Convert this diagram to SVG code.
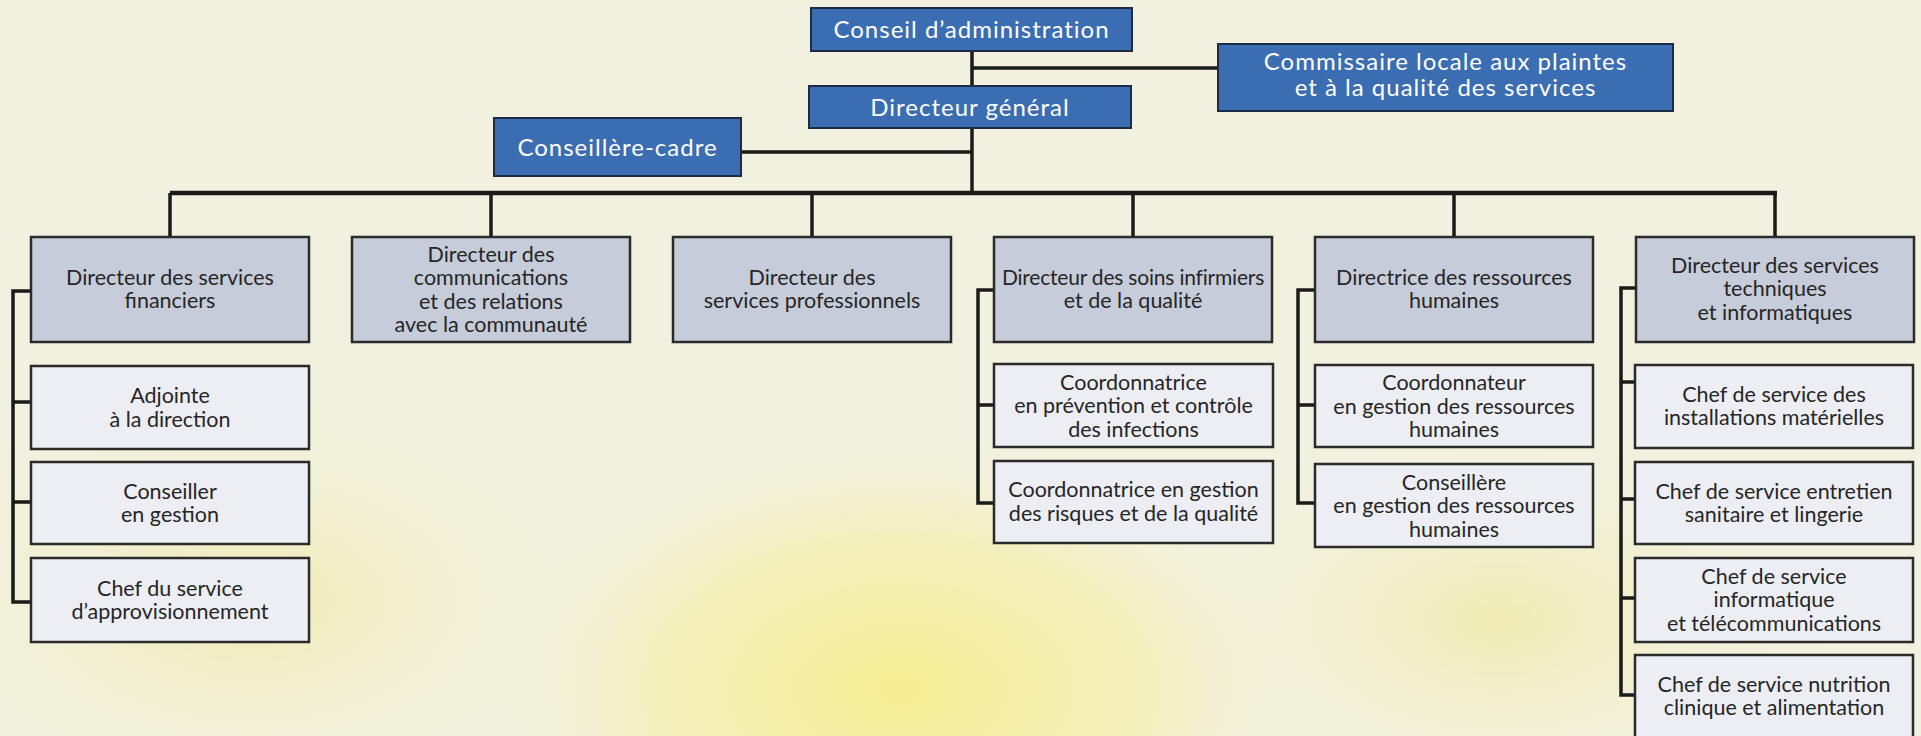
<svg xmlns="http://www.w3.org/2000/svg" width="1921" height="736" viewBox="0 0 1921 736">
<defs>
<radialGradient id="yel" cx="0.5" cy="0.5" r="0.5">
<stop offset="0" stop-color="#f7ee8a" stop-opacity="0.9"/>
<stop offset="0.6" stop-color="#f5ee9c" stop-opacity="0.5"/>
<stop offset="1" stop-color="#f2f0d8" stop-opacity="0"/>
</radialGradient>
<radialGradient id="yel2" cx="0.5" cy="0.5" r="0.5">
<stop offset="0" stop-color="#efe9a0" stop-opacity="0.7"/>
<stop offset="1" stop-color="#f2f0d8" stop-opacity="0"/>
</radialGradient>
<style>
.blue{fill:#3b6db3;stroke:#1d2b45;stroke-width:2}
.dir{fill:#c6ccd9;stroke:#2b2b2b;stroke-width:2.5}
.sub{fill:#eceef3;stroke:#2b2b2b;stroke-width:2.5}
.wt{font-family:Lato,"Open Sans",sans-serif;font-size:24px;fill:#ffffff;text-anchor:middle;letter-spacing:1px}
.t{font-family:Lato,"Open Sans",sans-serif;font-size:21.5px;fill:#262626;text-anchor:middle}
.ln{stroke:#1a1a1a;stroke-width:3.5;fill:none}
.bus{stroke:#1a1a1a;stroke-width:4.5;fill:none}
</style>
</defs>
<rect x="0" y="0" width="1921" height="736" fill="#f2f1df"/>
<ellipse cx="900" cy="690" rx="420" ry="260" fill="url(#yel)"/>
<ellipse cx="250" cy="600" rx="380" ry="220" fill="url(#yel2)"/>
<ellipse cx="1500" cy="620" rx="350" ry="200" fill="url(#yel2)"/>

<g id="connectors">
<path class="ln" d="M972 51 V86 M972 128 V193"/>
<path class="ln" d="M972 68 H1218"/>
<path class="ln" d="M741 152 H972"/>
<path class="bus" d="M170 193 H1777"/>
<path class="ln" d="M170 193 V237 M491 193 V237 M812 193 V237 M1133 193 V237 M1454 193 V237 M1775 193 V237"/>
<path class="ln" d="M31 291 H13 V602 H31 M13 402 H31 M13 502 H31"/>
<path class="ln" d="M994 290 H978 V503 H994 M978 405 H994"/>
<path class="ln" d="M1315 290 H1298 V503 H1315 M1298 405 H1315"/>
<path class="ln" d="M1636 288 H1621 V695 H1635 M1621 382 H1635 M1621 499 H1635 M1621 598 H1635"/>
</g>

<g id="conseil"><rect class="blue" x="811" y="8" width="321" height="43"/><text class="wt" x="971.5" y="38">Conseil d’administration</text></g>
<g id="dg"><rect class="blue" x="809" y="86" width="322" height="42"/><text class="wt" x="970" y="115.5">Directeur général</text></g>
<g id="commissaire"><rect class="blue" x="1218" y="44" width="455" height="67"/><text class="wt" x="1445.5" y="70">Commissaire locale aux plaintes</text><text class="wt" x="1445.5" y="96">et à la qualité des services</text></g>
<g id="conseillere-cadre"><rect class="blue" x="494" y="118" width="247" height="58"/><text class="wt" x="617.5" y="155.5">Conseillère-cadre</text></g>

<g id="dir-fin"><rect class="dir" x="31" y="237" width="278" height="105"/><text class="t" x="170" y="284.5">Directeur des services</text><text class="t" x="170" y="308">financiers</text></g>
<g id="dir-comm"><rect class="dir" x="352" y="237" width="278" height="105"/><text class="t" x="491" y="261.5">Directeur des</text><text class="t" x="491" y="285">communications</text><text class="t" x="491" y="308.5">et des relations</text><text class="t" x="491" y="332">avec la communauté</text></g>
<g id="dir-prof"><rect class="dir" x="673" y="237" width="278" height="105"/><text class="t" x="812" y="284.5">Directeur des</text><text class="t" x="812" y="308">services professionnels</text></g>
<g id="dir-soins"><rect class="dir" x="994" y="237" width="278" height="105"/><text class="t" x="1133" y="284.5" style="font-size:21px;letter-spacing:-0.2px">Directeur des soins infirmiers</text><text class="t" x="1133" y="308">et de la qualité</text></g>
<g id="dir-rh"><rect class="dir" x="1315" y="237" width="278" height="105"/><text class="t" x="1454" y="284.5">Directrice des ressources</text><text class="t" x="1454" y="308">humaines</text></g>
<g id="dir-tech"><rect class="dir" x="1636" y="237" width="278" height="105"/><text class="t" x="1775" y="272.5">Directeur des services</text><text class="t" x="1775" y="296">techniques</text><text class="t" x="1775" y="319.5">et informatiques</text></g>

<g id="adjointe"><rect class="sub" x="31" y="366" width="278" height="83"/><text class="t" x="170" y="403">Adjointe</text><text class="t" x="170" y="426.5">à la direction</text></g>
<g id="conseiller-gestion"><rect class="sub" x="31" y="462" width="278" height="82"/><text class="t" x="170" y="498.5">Conseiller</text><text class="t" x="170" y="522">en gestion</text></g>
<g id="approv"><rect class="sub" x="31" y="558" width="278" height="84"/><text class="t" x="170" y="595.5">Chef du service</text><text class="t" x="170" y="619">d’approvisionnement</text></g>

<g id="coord-infections"><rect class="sub" x="994" y="364" width="279" height="83"/><text class="t" x="1133.5" y="389.5">Coordonnatrice</text><text class="t" x="1133.5" y="413">en prévention et contrôle</text><text class="t" x="1133.5" y="436.5">des infections</text></g>
<g id="coord-risques"><rect class="sub" x="994" y="461" width="279" height="82"/><text class="t" x="1133.5" y="497">Coordonnatrice en gestion</text><text class="t" x="1133.5" y="520.5">des risques et de la qualité</text></g>

<g id="coord-rh"><rect class="sub" x="1315" y="365" width="278" height="82"/><text class="t" x="1454" y="390">Coordonnateur</text><text class="t" x="1454" y="413.5">en gestion des ressources</text><text class="t" x="1454" y="437">humaines</text></g>
<g id="conseillere-rh"><rect class="sub" x="1315" y="464" width="278" height="83"/><text class="t" x="1454" y="489.5">Conseillère</text><text class="t" x="1454" y="513">en gestion des ressources</text><text class="t" x="1454" y="536.5">humaines</text></g>

<g id="installations"><rect class="sub" x="1635" y="365" width="278" height="83"/><text class="t" x="1774" y="401.5">Chef de service des</text><text class="t" x="1774" y="425">installations matérielles</text></g>
<g id="entretien"><rect class="sub" x="1635" y="462" width="278" height="82"/><text class="t" x="1774" y="498.5">Chef de service entretien</text><text class="t" x="1774" y="522">sanitaire et lingerie</text></g>
<g id="informatique"><rect class="sub" x="1635" y="558" width="278" height="84"/><text class="t" x="1774" y="583.5">Chef de service</text><text class="t" x="1774" y="607">informatique</text><text class="t" x="1774" y="630.5">et télécommunications</text></g>
<g id="nutrition"><rect class="sub" x="1635" y="655" width="278" height="90"/><text class="t" x="1774" y="691.5">Chef de service nutrition</text><text class="t" x="1774" y="715">clinique et alimentation</text></g>
</svg>
